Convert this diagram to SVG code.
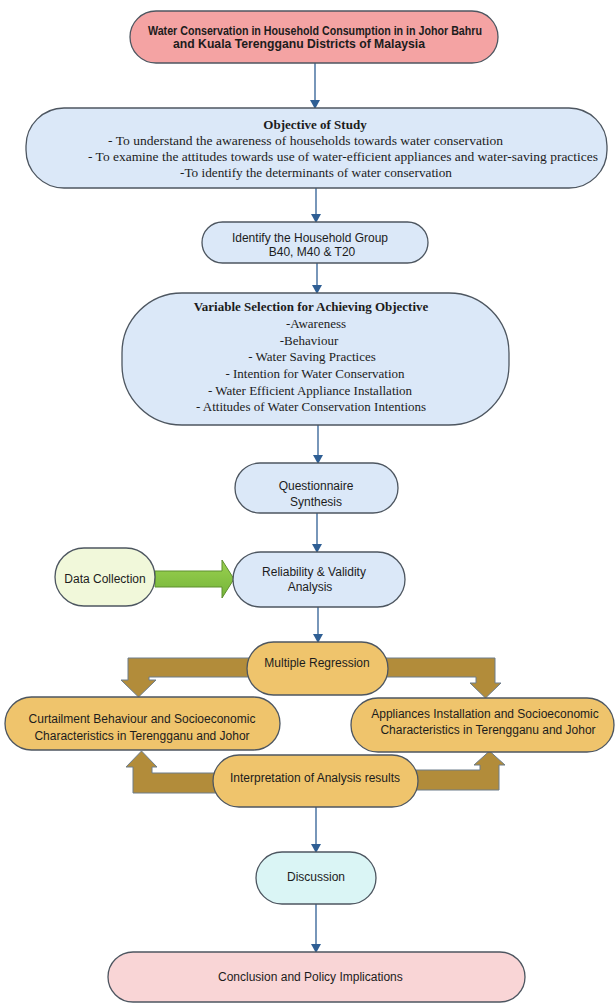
<svg xmlns="http://www.w3.org/2000/svg" width="615" height="1003" viewBox="0 0 615 1003">
<defs>
<marker id="ah" markerWidth="10" markerHeight="10" refX="8" refY="5" orient="auto" markerUnits="userSpaceOnUse">
<path d="M0,0 L9,5 L0,10 Z" fill="#2f5f94"/>
</marker>
<linearGradient id="greenGrad" x1="0" y1="0" x2="0" y2="1">
<stop offset="0" stop-color="#9bd14f"/>
<stop offset="1" stop-color="#74b43a"/>
</linearGradient>
<style>
.box{stroke:#4d5660;stroke-width:1.3}
.blue{fill:#dbe8f8}
.red{fill:#f4a3a3}
.pink{fill:#f9d5d6}
.cyan{fill:#daf5f5}
.lime{fill:#f1f8da}
.gold{fill:#efc46c}
.conn{stroke:#2f5f94;stroke-width:1.3;fill:none;marker-end:url(#ah)}
.bent{fill:#b28c3a;stroke:#6d7c8a;stroke-width:1}
.sans{font-family:"Liberation Sans",Arial,sans-serif;font-size:12px;fill:#1c1c1c}
.serif{font-family:"Liberation Serif","Times New Roman",serif;font-size:13px;fill:#1c1c1c}
.c{text-anchor:middle}
</style>
</defs>
<rect width="615" height="1003" fill="#ffffff"/>

<g id="connectors">
<line class="conn" x1="315" y1="63" x2="315" y2="108"/>
<line class="conn" x1="316" y1="188" x2="316" y2="222"/>
<line class="conn" x1="317" y1="263" x2="317" y2="293"/>
<line class="conn" x1="318" y1="425" x2="318" y2="463"/>
<line class="conn" x1="317" y1="513" x2="317" y2="552"/>
<line class="conn" x1="318" y1="607" x2="318" y2="642"/>
<line class="conn" x1="316" y1="807" x2="316" y2="852"/>
<line class="conn" x1="316" y1="904" x2="316" y2="952"/>
<path d="M155,571 H222 V560 L234,579 L222,598 V587 H155 Z" fill="url(#greenGrad)" stroke="#5f8f2e" stroke-width="1"/>
<path class="bent" d="M250,658 H128 V680 H121 L138.5,697 L156,680 H149 V677 H250 Z"/>
<path class="bent" d="M385,658 H495 V683 H501 L485.5,698 L470,683 H476 V677 H385 Z"/>
<path class="bent" d="M216,793 H133 V767 H126 L141.5,751 L157,767 H152 V773 H216 Z"/>
<path class="bent" d="M415,770 H480 V765 H474 L489.5,751 L505,765 H499 V790 H415 Z"/>
</g>

<g id="title">
<rect class="box red" x="130" y="11" width="368" height="52" rx="26"/>
<text class="sans" font-weight="bold" font-size="11" x="148" y="35" textLength="334" lengthAdjust="spacingAndGlyphs">Water Conservation in Household Consumption in in Johor Bahru</text>
<text class="sans" font-weight="bold" font-size="11" x="173" y="48" textLength="252" lengthAdjust="spacingAndGlyphs">and Kuala Terengganu Districts of Malaysia</text>
</g>

<g id="objective">
<rect class="box blue" x="26" y="108" width="581" height="80" rx="38"/>
<text class="serif c" font-weight="bold" x="315" y="129">Objective of Study</text>
<text class="serif" font-size="12.5" x="108" y="145" textLength="395" lengthAdjust="spacingAndGlyphs">- To understand the awareness of households towards water conservation</text>
<text class="serif" font-size="12.5" x="88" y="161" textLength="510" lengthAdjust="spacingAndGlyphs">- To examine the attitudes towards use of water-efficient appliances and water-saving practices</text>
<text class="serif" font-size="12.5" x="180" y="177" textLength="272" lengthAdjust="spacingAndGlyphs">-To identify the determinants of water conservation</text>
</g>

<g id="household">
<rect class="box blue" x="202" y="222" width="226" height="41" rx="20.5"/>
<text class="sans c" x="310" y="242">Identify the Household Group</text>
<text class="sans c" x="312" y="256">B40, M40 &amp; T20</text>
</g>

<g id="variables">
<rect class="box blue" x="122" y="293" width="387" height="132" rx="60"/>
<text class="serif c" font-weight="bold" x="311" y="311">Variable Selection for Achieving Objective</text>
<text class="serif c" x="316" y="328">-Awareness</text>
<text class="serif c" x="309" y="345">-Behaviour</text>
<text class="serif c" x="312" y="361">- Water Saving Practices</text>
<text class="serif c" x="315" y="378">- Intention for Water Conservation</text>
<text class="serif c" x="310" y="395">- Water Efficient Appliance Installation</text>
<text class="serif c" x="311" y="411">- Attitudes of Water Conservation Intentions</text>
</g>

<g id="questionnaire">
<rect class="box blue" x="235" y="463" width="163" height="50" rx="25"/>
<text class="sans c" x="316" y="490">Questionnaire</text>
<text class="sans c" x="316" y="506">Synthesis</text>
</g>

<g id="datacollection">
<rect class="box lime" x="55" y="548" width="100" height="58" rx="29"/>
<text class="sans c" x="105" y="583">Data Collection</text>
</g>

<g id="reliability">
<rect class="box blue" x="233" y="552" width="172" height="55" rx="27.5"/>
<text class="sans c" x="314" y="576">Reliability &amp; Validity</text>
<text class="sans c" x="310" y="591">Analysis</text>
</g>

<g id="regression">
<rect class="box gold" x="247" y="642" width="141" height="53" rx="26.5"/>
<text class="sans c" x="317" y="667">Multiple Regression</text>
</g>

<g id="curtailment">
<rect class="box gold" x="5" y="697" width="275" height="53" rx="26.5"/>
<text class="sans c" x="142" y="723">Curtailment Behaviour and Socioeconomic</text>
<text class="sans c" x="142" y="740">Characteristics in Terengganu and Johor</text>
</g>

<g id="appliances">
<rect class="box gold" x="351" y="698" width="263" height="54" rx="27"/>
<text class="sans c" x="485" y="718">Appliances Installation and Socioeconomic</text>
<text class="sans c" x="488" y="734">Characteristics in Terengganu and Johor</text>
</g>

<g id="interpretation">
<rect class="box gold" x="213" y="755" width="205" height="52" rx="26"/>
<text class="sans c" x="315" y="782">Interpretation of Analysis results</text>
</g>

<g id="discussion">
<rect class="box cyan" x="256" y="852" width="120" height="52" rx="26"/>
<text class="sans c" x="316" y="881">Discussion</text>
</g>

<g id="conclusion">
<rect class="box pink" x="108" y="952" width="417" height="50" rx="25"/>
<text class="sans" x="218" y="981">Conclusion and Policy Implications</text>
</g>
</svg>
